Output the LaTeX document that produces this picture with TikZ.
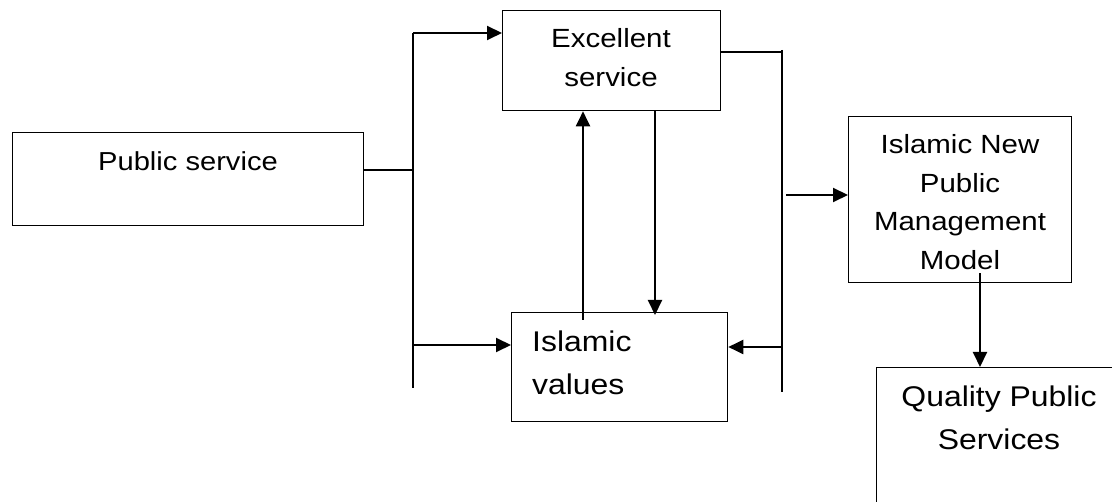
\documentclass[tikz,border=0pt]{standalone}
\usepackage{fontspec}
\setmainfont{Liberation Sans}[FakeStretch=1.12]
\usetikzlibrary{arrows.meta}
\begin{document}
\begin{tikzpicture}[x=1pt,y=-1pt,
  box/.style={draw, line width=1.3pt, inner sep=0pt, anchor=north west},
  conn/.style={line width=2pt},
  arr/.style={line width=2pt, -{Triangle[length=15pt,width=14pt]}},
  lbl/.style={inner sep=0pt, align=center}]
\path[use as bounding box, clip] (0,0) rectangle (1112,502);
% boxes
\node[box, minimum width=351pt, minimum height=93pt] (ps) at (12,132) {};
\node[box, minimum width=218pt, minimum height=100pt] (ex) at (502,10) {};
\node[box, minimum width=216pt, minimum height=109pt] (iv) at (511,312) {};
\node[box, minimum width=223pt, minimum height=166pt] (inpm) at (848,116) {};
\node[box, minimum width=260pt, minimum height=180pt] (qps) at (876,367) {};
% texts (base anchor = last line's baseline)
\node[lbl, anchor=base, font=\fontsize{26}{30}\selectfont] (pst) at (188,171) {Public service};
\node[lbl, anchor=base, font=\fontsize{26.3}{39.5}\selectfont] (ext) at (611,87) {Excellent\\service};
\node[lbl, anchor=base west, align=left, font=\fontsize{28.5}{43}\selectfont] (ivt) at (532,395) {Islamic\\values};
\node[lbl, anchor=base, font=\fontsize{26.3}{38.5}\selectfont] (inpmt) at (960,269.5) {Islamic New\\Public\\Management\\Model};
\node[lbl, anchor=base, font=\fontsize{28.5}{43}\selectfont] (qpst) at (999,450) {Quality Public\\Services};
% bus coordinates
\coordinate (lbT) at (413,33);
\coordinate (lbB) at (413,388);
\coordinate (lbM) at (413,170);
\coordinate (lbI) at (413,345);
\coordinate (rbT) at (782,50);
\coordinate (rbB) at (782,392);
\coordinate (rbE) at (782,52);
\coordinate (rbI) at (782,347);
\coordinate (rbN) at (786,195);
% connectors
\draw[conn] (lbT) -- (lbB);
\draw[conn] (rbT) -- (rbB);
\draw[conn] (ps.east |- lbM) -- (lbM);
\draw[arr] (lbT) -- (lbT -| ex.west);
\draw[arr] (lbI) -- (lbI -| iv.west);
\draw[conn] (ex.east |- rbE) -- (rbE);
\draw[arr] (rbI) -- (rbI -| iv.east);
\draw[arr] (rbN) -- (rbN -| inpm.west);
\draw[arr] ([yshift=-8pt]iv.north -| 583,0) -- (ex.south -| 583,0);
\draw[arr] (ex.south -| 655,0) -- ([yshift=-3pt]iv.north -| 655,0);
\draw[arr] ([yshift=10pt]inpm.south -| 980,0) -- (qps.north -| 980,0);
\end{tikzpicture}
\end{document}
